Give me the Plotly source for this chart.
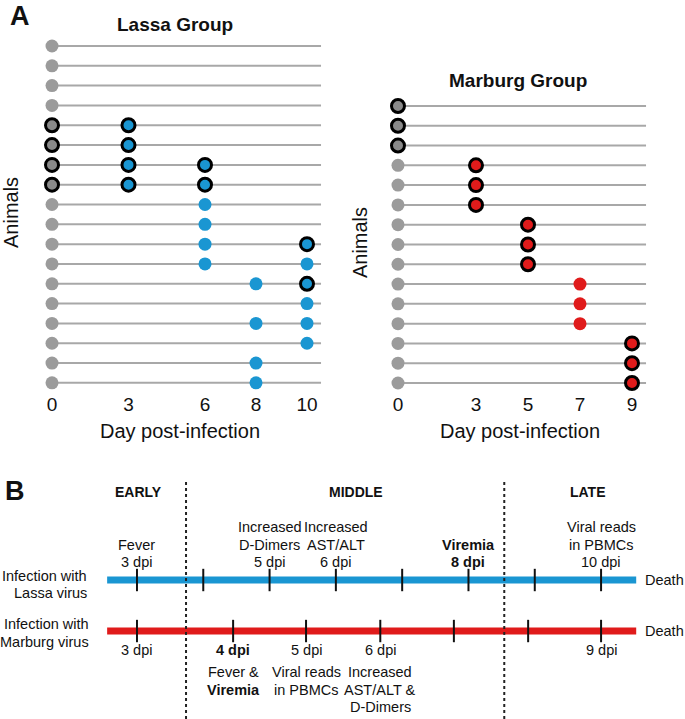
import plotly.graph_objects as go

# ---------------- data ----------------
# Panel A: Lassa group (18 animals), days on which a marker is drawn (beyond day 0)
lassa_days = [[], [], [], [], [3], [3], [3, 6], [3, 6], [6], [6], [6, 10], [6, 10],
              [8, 10], [10], [8, 10], [10], [8], [8]]
lassa_outlined = [[], [], [], [], [3], [3], [3, 6], [3, 6], [], [], [10], [],
                  [10], [], [], [], [], []]
lassa_day0_outlined = [0, 0, 0, 0, 1, 1, 1, 1, 0, 0, 0, 0, 0, 0, 0, 0, 0, 0]
lassa_ticks = [0, 3, 6, 8, 10]
lassa_line_end = 10.55

# Panel A: Marburg group (15 animals)
marburg_days = [[], [], [], [3], [3], [3], [5], [5], [5], [7], [7], [7], [9], [9], [9]]
marburg_outlined = [[], [], [], [3], [3], [3], [5], [5], [5], [], [], [], [9], [9], [9]]
marburg_day0_outlined = [1, 1, 1, 0, 0, 0, 0, 0, 0, 0, 0, 0, 0, 0, 0]
marburg_ticks = [0, 3, 5, 7, 9]
marburg_line_end = 9.54

# Panel B: timelines (positions in common timeline units = Lassa days)
lassa_tick_days = [3, 4, 5, 6, 7, 8, 9, 10]
marburg_tick_days = [3, 4, 5, 6, 7, 8, 9]
marburg_tick_pos = [3.0, 4.45, 5.55, 6.67, 7.78, 8.9, 10.0]
timeline_start, timeline_end = 2.55, 10.53
phase_bounds = [3.74, 8.54]
phase_names = ["EARLY", "MIDDLE", "LATE"]
phase_pos = [3.02, 6.3, 9.8]

lassa_events = {3: ["Fever", "3 dpi"],
                5: ["Increased", "D-Dimers", "5 dpi"],
                6: ["Increased", "AST/ALT", "6 dpi"],
                8: ["<b>Viremia</b>", "<b>8 dpi</b>"],
                10: ["Viral reads", "in PBMCs", "10 dpi"]}
marburg_dpi = {3: "3 dpi", 4: "<b>4 dpi</b>", 5: "5 dpi", 6: "6 dpi", 9: "9 dpi"}
marburg_events = {4: ["Fever &", "<b>Viremia</b>"],
                  5: ["Viral reads", "in PBMCs"],
                  6: ["Increased", "AST/ALT &", "D-Dimers"]}

# ---------------- styles ----------------
FONT = "Arial, 'Liberation Sans', sans-serif"
GRAY = "#9b9b9b"
GRAY_DARK = "#8a8a8a"
LINE_GRAY = "#a8a8a8"
BLUE = "#1a96d2"
RED = "#e01b1b"
TXT = "#111111"
LH = 17.5  # line spacing of panel B text (px)

W, H = 685, 719


def px_x(p):
    return p / W


def px_y(p):
    return 1 - p / H


fig = go.Figure()


def add_group(days, outlined, day0_out, line_end, color, xa, ya):
    rows = list(range(1, len(days) + 1))
    lx, ly = [], []
    for r in rows:
        lx += [0, line_end, None]
        ly += [r, r, None]
    fig.add_trace(go.Scatter(x=lx, y=ly, mode="lines", xaxis=xa, yaxis=ya,
                             line=dict(color=LINE_GRAY, width=2),
                             hoverinfo="skip", showlegend=False))
    for flag, fill in ((0, GRAY), (1, GRAY_DARK)):
        ys = [r for r, f in zip(rows, day0_out) if f == flag]
        fig.add_trace(go.Scatter(
            x=[0] * len(ys), y=ys, mode="markers", xaxis=xa, yaxis=ya,
            marker=dict(size=13, color=fill,
                        line=dict(color="black", width=3 if flag else 0)),
            showlegend=False))
    px_, py_, ox, oy = [], [], [], []
    for r, ds, os_ in zip(rows, days, outlined):
        for d in ds:
            if d in os_:
                ox.append(d)
                oy.append(r)
            else:
                px_.append(d)
                py_.append(r)
    fig.add_trace(go.Scatter(x=px_, y=py_, mode="markers", xaxis=xa, yaxis=ya,
                             marker=dict(size=13, color=color, line=dict(width=0)),
                             showlegend=False))
    fig.add_trace(go.Scatter(x=ox, y=oy, mode="markers", xaxis=xa, yaxis=ya,
                             marker=dict(size=13, color=color,
                                         line=dict(color="black", width=3)),
                             showlegend=False))


add_group(lassa_days, lassa_outlined, lassa_day0_outlined, lassa_line_end, BLUE, "x", "y")
add_group(marburg_days, marburg_outlined, marburg_day0_outlined, marburg_line_end, RED, "x2", "y2")

# ---------------- panel B ----------------
for row, color in ((0, BLUE), (1, RED)):
    fig.add_trace(go.Scatter(x=[timeline_start, timeline_end], y=[row, row], mode="lines",
                             xaxis="x3", yaxis="y3", line=dict(color=color, width=7),
                             hoverinfo="skip", showlegend=False))
for xs, row in ((lassa_tick_days, 0), (marburg_tick_pos, 1)):
    fig.add_trace(go.Scatter(x=xs, y=[row] * len(xs), mode="markers",
                             xaxis="x3", yaxis="y3",
                             marker=dict(symbol="line-ns-open", size=16, color="#111111",
                                         line=dict(color="#111111", width=2)),
                             showlegend=False))

shapes = []
for b in phase_bounds:
    shapes.append(dict(type="line", xref="x3", yref="paper", x0=b, x1=b,
                       y0=0, y1=px_y(480), line=dict(color="#222222", width=2, dash="dot")))

ann = []


def A(text, x, y, xref="paper", yref="paper", xanchor="center", yanchor="middle",
      yshift=0, size=14.5, align="center"):
    ann.append(dict(text=text, x=x, y=y, xref=xref, yref=yref, xanchor=xanchor,
                    yanchor=yanchor, yshift=yshift, align=align, showarrow=False,
                    font=dict(family=FONT, size=size, color=TXT)))


# panel letters and titles
A("<b>A</b>", px_x(20), px_y(16), size=27)
A("<b>B</b>", px_x(15), px_y(491), size=27)
A("<b>Lassa Group</b>", px_x(175), px_y(24), size=19)
A("<b>Marburg Group</b>", px_x(518), px_y(81), size=19)

# phase headers
for name, p in zip(phase_names, phase_pos):
    A("<b>%s</b>" % name, p, px_y(492), xref="x3", size=14)

# Lassa events above line (bottom line 18 px above the bar)
for d, lines in lassa_events.items():
    n = len(lines)
    for i, t in enumerate(lines):
        A(t, d, 0, xref="x3", yref="y3", yshift=18 + (n - 1 - i) * LH)
# Marburg dpi labels and events below line
for d, t in marburg_dpi.items():
    p = marburg_tick_pos[marburg_tick_days.index(d)]
    A(t, p, 1, xref="x3", yref="y3", yshift=-19)
for d, lines in marburg_events.items():
    p = marburg_tick_pos[marburg_tick_days.index(d)]
    for i, t in enumerate(lines):
        A(t, p, 1, xref="x3", yref="y3", yshift=-41 - i * LH)

# row labels and Death
A("Infection with", px_x(89), 0, yref="y3", xanchor="right", yshift=4)
A("Lassa virus", px_x(89), 0, yref="y3", xanchor="right", yshift=-13)
A("Infection with", px_x(91), 1, yref="y3", xanchor="right", yshift=7)
A("Marburg virus", px_x(91), 1, yref="y3", xanchor="right", yshift=-11)
for r in (0, 1):
    A("Death", px_x(643), r, yref="y3", xanchor="left")

tickfont = dict(family=FONT, size=19, color=TXT)
titlefont = dict(family=FONT, size=20, color=TXT)

fig.update_layout(
    width=W, height=H, margin=dict(l=0, r=0, t=0, b=0),
    paper_bgcolor="white", plot_bgcolor="white",
    font=dict(family=FONT, color=TXT),
    showlegend=False,
    xaxis=dict(domain=[px_x(30), px_x(330)], range=[-0.863, 10.902], anchor="y",
               tickvals=lassa_ticks, showgrid=False, zeroline=False, showline=False,
               ticks="", tickfont=tickfont,
               title=dict(text="Day post-infection", font=titlefont, standoff=10)),
    yaxis=dict(domain=[px_y(390.8), px_y(34.1)], range=[18.4, 0.4], anchor="x",
               showgrid=False, zeroline=False, showline=False, showticklabels=False,
               title=dict(text="Animals", font=titlefont, standoff=6)),
    xaxis2=dict(domain=[px_x(380), px_x(660)], range=[-0.692, 10.077], anchor="y2",
                tickvals=marburg_ticks, showgrid=False, zeroline=False, showline=False,
                ticks="", tickfont=tickfont,
                title=dict(text="Day post-infection", font=titlefont, standoff=10)),
    yaxis2=dict(domain=[px_y(390.9), px_y(94.1)], range=[15.4, 0.4], anchor="x2",
                showgrid=False, zeroline=False, showline=False, showticklabels=False,
                title=dict(text="Animals", font=titlefont, standoff=6)),
    xaxis3=dict(domain=[0, 1], range=[0.934, 11.266], visible=False, anchor="y3"),
    yaxis3=dict(domain=[0, px_y(470)], range=[2.725, -2.157], visible=False, anchor="x3"),
    shapes=shapes,
    annotations=ann,
)

fig.write_html("out.html", config={"displayModeBar": False},
               post_script="document.body.style.margin='0px';")
